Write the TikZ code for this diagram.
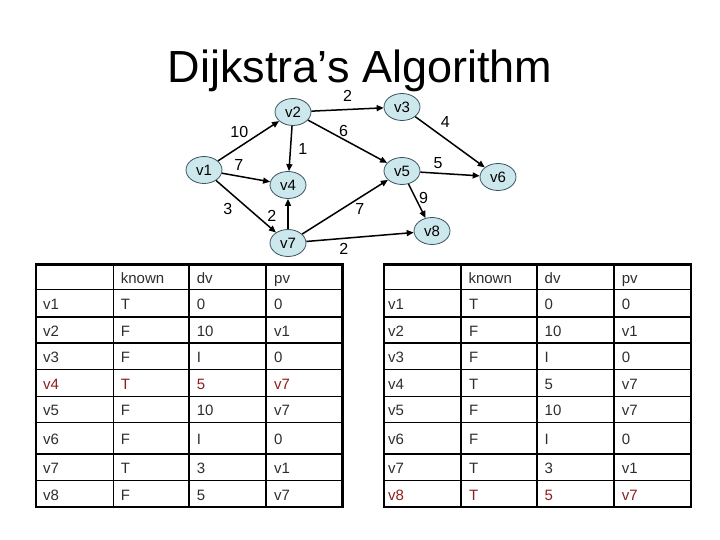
\documentclass[tikz,border=0pt]{standalone}
\usepackage{fontspec}
\setmainfont{Liberation Sans}
\usetikzlibrary{arrows.meta,shapes.geometric}

\definecolor{vfill}{RGB}{204,232,236}
\definecolor{vline}{RGB}{55,85,95}
\definecolor{hot}{RGB}{140,30,30}
\definecolor{ink}{RGB}{45,45,45}

\begin{document}
\begin{tikzpicture}[x=1pt, y=-1pt,
  vert/.style={ellipse, draw=vline, fill=vfill, line width=0.8pt, minimum width=36pt, minimum height=27pt, inner sep=0pt, font=\fontsize{15}{15}\selectfont},
  wt/.style={inner sep=1pt, font=\fontsize{16}{16}\selectfont},
  edge/.style={-{Triangle[length=7pt,width=6pt]}, line width=1.5pt},
  grid/.style={line width=1.6pt},
  frame/.style={line width=2.4pt},
  cell/.style={anchor=base west, inner sep=0pt, font=\fontsize{15}{15}\selectfont}
]
\useasboundingbox (0,0) rectangle (720,540);

\node[anchor=base, font=\fontsize{45}{45}\selectfont] (title) at (360,83) {Dijkstra’s Algorithm};

% graph
\node[vert] (v1) at (204,170) {v1};
\node[vert] (v2) at (293,112) {v2};
\node[vert] (v3) at (402,107) {v3};
\node[vert] (v4) at (288,185) {v4};
\node[vert] (v5) at (402,171) {v5};
\node[vert] (v6) at (498,177) {v6};
\node[vert] (v7) at (288,243) {v7};
\node[vert] (v8) at (432,231) {v8};

\draw[edge] (v1) -- node[wt, pos=.35, above=8pt] (w12) {10} (v2);
\draw[edge] (v1) -- node[wt, pos=.35, above=4pt] (w14) {7} (v4);
\draw[edge] (v1) -- node[wt, pos=.35, below left=3pt] (w17) {3} (v7);
\draw[edge] (v2) -- node[wt, pos=.5, right=6pt] (w24) {1} (v4);
\draw[edge] (v2) -- node[wt, pos=.5, above=6pt] (w23) {2} (v3);
\draw[edge] (v2) -- node[wt, pos=.45, above=1pt] (w25) {6} (v5);
\draw[edge] (v3) -- node[wt, pos=.3, above right=3pt] (w36) {4} (v6);
\draw[edge] (v5) -- node[wt, pos=.3, above=3pt] (w56) {5} (v6);
\draw[edge] (v5) -- node[wt, pos=.4, right=2pt] (w58) {9} (v8);
\draw[edge] (v7) -- node[wt, pos=.45, left=10pt] (w74) {2} (v4);
\draw[edge] (v7) -- node[wt, pos=.6, below right=0pt] (w75) {7} (v5);
\draw[edge] (v7) -- node[wt, pos=.35, below=3pt] (w78) {2} (v8);

% left table
\foreach \y in {289.3,316.7,343,369.3,396.3,422.3,454,480.3}
  \draw[grid] (35.7,\y) -- (342.3,\y);
\foreach \x in {113.3,189,266}
  \draw[grid] (\x,264.3) -- (\x,506.7);
\draw[frame] (35.7,264.3) rectangle (342.3,506.7);

\node[cell, text=ink] (Lk) at (120.7,283) {known};
\node[cell, text=ink] (Ld) at (196.7,283) {dv};
\node[cell, text=ink] (Lp) at (274,283) {pv};
\foreach \n/\k/\d/\p/\yb/\c [count=\i] in {
    v1/T/0/0/309.5/ink, v2/F/10/v1/336.4/ink, v3/F/I/0/362.7/ink,
    v4/T/5/v7/389.3/hot, v5/F/10/v7/415.8/ink, v6/F/I/0/444.7/ink,
    v7/T/3/v1/473.7/ink, v8/F/5/v7/500/ink} {
  \node[cell, text=\c] (La\i) at (43,\yb) {\n};
  \node[cell, text=\c] (Lb\i) at (120.7,\yb) {\k};
  \node[cell, text=\c] (Lc\i) at (196.7,\yb) {\d};
  \node[cell, text=\c] (Ld\i) at (274,\yb) {\p};
}

% right table
\foreach \y in {289.3,316.7,343,369.3,396.3,422.3,454,480.3}
  \draw[grid] (384,\y) -- (690.7,\y);
\foreach \x in {460.7,536.7,614}
  \draw[grid] (\x,264.3) -- (\x,506.7);
\draw[frame] (384,264.3) rectangle (690.7,506.7);

\node[cell, text=ink] (Rk) at (468.3,283) {known};
\node[cell, text=ink] (Rd) at (544.5,283) {dv};
\node[cell, text=ink] (Rp) at (621.7,283) {pv};
\foreach \n/\k/\d/\p/\yb/\c [count=\i] in {
    v1/T/0/0/309.5/ink, v2/F/10/v1/336.4/ink, v3/F/I/0/362.7/ink,
    v4/T/5/v7/389.3/ink, v5/F/10/v7/415.8/ink, v6/F/I/0/444.7/ink,
    v7/T/3/v1/473.7/ink, v8/T/5/v7/500/hot} {
  \node[cell, text=\c] (Ra\i) at (388,\yb) {\n};
  \node[cell, text=\c] (Rb\i) at (469,\yb) {\k};
  \node[cell, text=\c] (Rc\i) at (544.5,\yb) {\d};
  \node[cell, text=\c] (Rd\i) at (621.7,\yb) {\p};
}
\end{tikzpicture}
\end{document}
